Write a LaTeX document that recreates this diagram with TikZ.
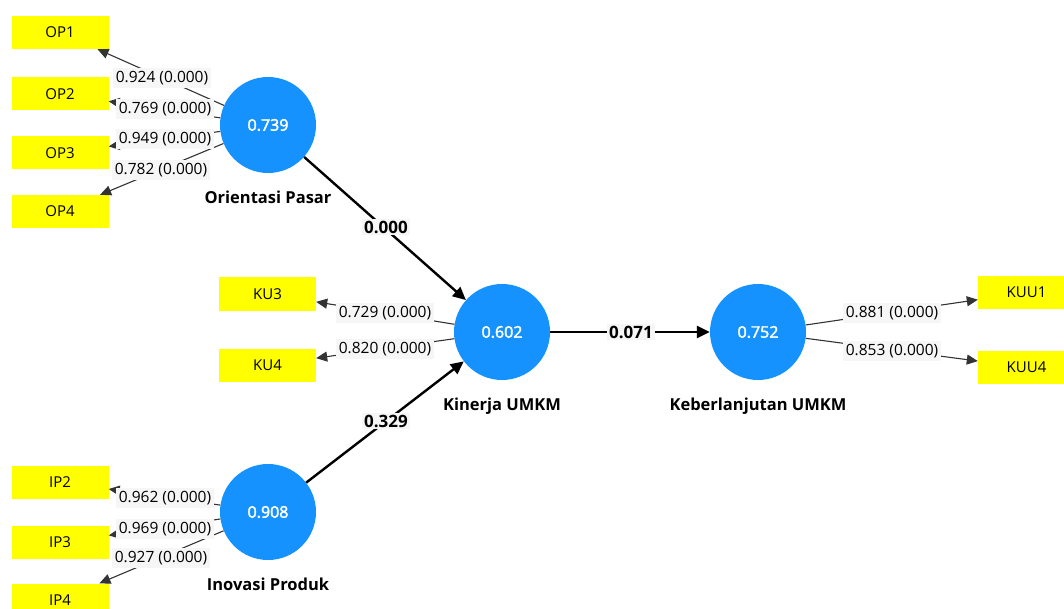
\documentclass[tikz,border=0pt]{standalone}
\usepackage{fontspec}
\setmainfont{Open Sans}
\newfontfamily\lvfont[FakeBold=2.5]{Open Sans}
\usetikzlibrary{arrows.meta}
\definecolor{lvblue}{RGB}{22,146,255}
\definecolor{indyel}{RGB}{255,255,0}
\definecolor{lblbg}{RGB}{246,246,246}
\begin{document}
\begin{tikzpicture}[x=1pt,y=-1pt,
 lv/.style={circle,fill=lvblue,minimum size=96pt,inner sep=0pt,text=white,font=\lvfont\fontsize{16}{18}\selectfont},
 ind/.style={rectangle,fill=indyel,minimum width=97pt,minimum height=33pt,inner sep=0pt,font=\fontsize{15}{17}\selectfont},
 lvname/.style={font=\bfseries\fontsize{16.5}{19}\selectfont},
 load/.style={draw=black!80,line width=1.1pt,-{Triangle[length=11pt,width=10pt]}},
 pathc/.style={draw=black,line width=2.4pt,-{Triangle[length=13pt,width=12pt]}},
 loadlbl/.style={fill=lblbg,inner xsep=3pt,inner ysep=3pt,font=\fontsize{15.5}{17}\selectfont},
 pathlbl/.style={fill=lblbg,inner sep=2pt,font=\bfseries\fontsize{17}{19}\selectfont},
]
\useasboundingbox (0,0) rectangle (1064,609);
% latent variables
\node[lv] (op) at (268,125) {0.739};
\node[lv] (ku) at (502,332) {0.602};
\node[lv] (kuu) at (758,332) {0.752};
\node[lv] (ip) at (268,512) {0.908};
\node[lvname] (opn) at (268,197) {Orientasi Pasar};
\node[lvname] (kun) at (502,406) {Kinerja UMKM};
\node[lvname] (kuun) at (758,406) {Keberlanjutan UMKM};
\node[lvname] (ipn) at (268,584) {Inovasi Produk};
% indicators
\node[ind] (op1) at (60,32.5) {OP1};
\node[ind] (op2) at (60,94) {OP2};
\node[ind] (op3) at (60,153) {OP3};
\node[ind] (op4) at (60,211.5) {OP4};
\node[ind] (ku3) at (267.5,294) {KU3};
\node[ind] (ku4) at (267.5,365) {KU4};
\node[ind] (kuu1) at (1026.5,292.5) {KUU1};
\node[ind] (kuu4) at (1026.5,367.5) {KUU4};
\node[ind] (ip2) at (60,482) {IP2};
\node[ind] (ip3) at (60,542.5) {IP3};
\node[ind] (ip4) at (60,600) {IP4};
% loadings
\draw[load] (op) -- (op1);
\draw[load] (op) -- (op2);
\draw[load] (op) -- (op3);
\draw[load] (op) -- (op4);
\draw[load] (ku) -- (ku3);
\draw[load] (ku) -- (ku4);
\draw[load] (kuu) -- (kuu1);
\draw[load] (kuu) -- (kuu4);
\draw[load] (ip) -- (ip2);
\draw[load] (ip) -- (ip3);
\draw[load] (ip) -- (ip4);
% paths
\draw[pathc] (op) -- (ku);
\draw[pathc] (ip) -- (ku);
\draw[pathc] (ku) -- (kuu);
% loading labels
\node[loadlbl] (l1) at (162,78) {0.924 (0.000)};
\node[loadlbl] (l2) at (165,109) {0.769 (0.000)};
\node[loadlbl] (l3) at (165,139) {0.949 (0.000)};
\node[loadlbl] (l4) at (161,170) {0.782 (0.000)};
\node[loadlbl] (l5) at (385,313) {0.729 (0.000)};
\node[loadlbl] (l6) at (385,349) {0.820 (0.000)};
\node[loadlbl] (l7) at (892,313) {0.881 (0.000)};
\node[loadlbl] (l8) at (892,351) {0.853 (0.000)};
\node[loadlbl] (l9) at (165,498) {0.962 (0.000)};
\node[loadlbl] (l10) at (165,529) {0.969 (0.000)};
\node[loadlbl] (l11) at (161,558) {0.927 (0.000)};
% path labels
\node[pathlbl] (p1) at (386,227) {0.000};
\node[pathlbl] (p2) at (386,421) {0.329};
\node[pathlbl] (p3) at (631,332) {0.071};
\end{tikzpicture}
\end{document}
